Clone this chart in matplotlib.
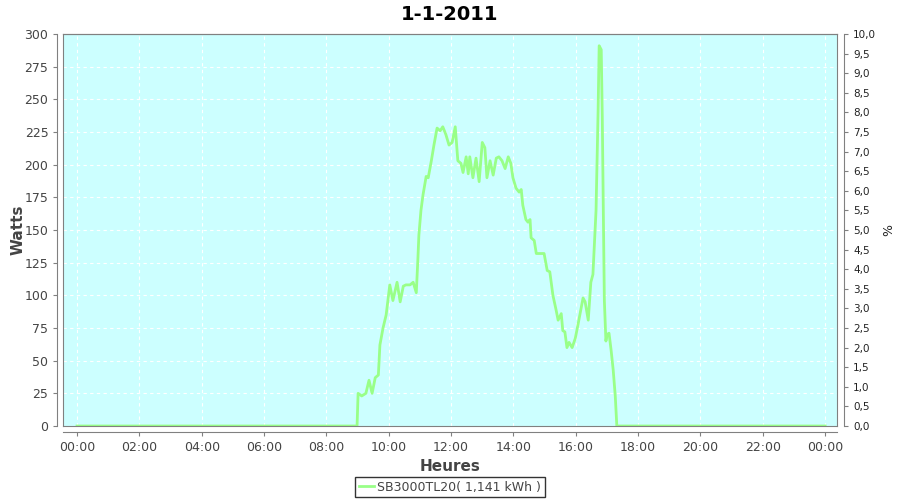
import matplotlib
matplotlib.use("Agg")
import matplotlib.pyplot as plt
from matplotlib.ticker import MultipleLocator, FuncFormatter

title = "1-1-2011"
series_name = "SB3000TL20( 1,141 kWh )"

# time of day (HH:MM) and power (W)
times = ["00:00", "08:59", "09:01", "09:08", "09:16", "09:22", "09:28", "09:34",
         "09:40", "09:43", "09:49", "09:55", "10:02", "10:08", "10:16", "10:22",
         "10:28", "10:33", "10:41", "10:47", "10:53", "10:56", "10:58", "11:02",
         "11:06", "11:12", "11:16", "11:22", "11:27", "11:33", "11:39", "11:44",
         "11:50", "11:56", "12:02", "12:08", "12:13", "12:19", "12:23", "12:29",
         "12:33", "12:36", "12:42", "12:48", "12:54", "13:00", "13:05", "13:09",
         "13:15", "13:21", "13:27", "13:32", "13:38", "13:44", "13:50", "13:55",
         "13:59", "14:05", "14:11", "14:15", "14:18", "14:24", "14:28", "14:32",
         "14:34", "14:40", "14:44", "14:51", "14:59", "15:05", "15:10", "15:16",
         "15:22", "15:26", "15:32", "15:35", "15:39", "15:43", "15:47", "15:53",
         "15:59", "16:04", "16:14", "16:18", "16:24", "16:29", "16:33", "16:39",
         "16:43", "16:45", "16:49", "16:51", "16:53", "16:55", "16:58", "17:00",
         "17:04", "17:08", "17:12", "17:16", "17:19", "24:00"]
watts = [0, 0, 25, 23, 25, 35, 25, 37,
         39, 62, 75, 85, 108, 96, 110, 95,
         107, 108, 108, 110, 102, 127, 146, 165,
         177, 191, 190, 203, 215, 228, 226, 229,
         223, 215, 217, 229, 203, 201, 194, 206,
         193, 206, 190, 205, 187, 217, 213, 190,
         203, 192, 205, 206, 203, 197, 206, 201,
         190, 182, 179, 181, 169, 158, 156, 158,
         144, 142, 132, 132, 132, 119, 118, 100,
         89, 81, 86, 73, 72, 60, 64, 60,
         67, 77, 98, 95, 81, 110, 116, 165,
         242, 291, 288, 237, 165, 96, 65, 70,
         71, 58, 43, 23, 0, 0]

hours = [int(t[:2]) + int(t[3:]) / 60 for t in times]

plt.rcParams['font.family'] = ['DejaVu Sans']

fig = plt.figure(figsize=(9, 5), dpi=100)
ax = fig.add_axes([0.07, 0.148, 0.86, 0.784])
ax.set_facecolor("#ccffff")

ax.plot(hours, watts, color="#99ff88", lw=2, label=series_name)

ax.set_xlim(-0.45, 24.38)
ax.set_ylim(0, 300)
ax.xaxis.set_major_locator(MultipleLocator(2))
ax.xaxis.set_major_formatter(FuncFormatter(lambda v, p: "%02d:00" % (int(round(v)) % 24)))
ax.yaxis.set_major_locator(MultipleLocator(25))
ax.grid(True, color="white", ls=(0, (3, 3)), lw=0.8)

grey = "#808080"
for side in ["left", "bottom", "right", "top"]:
    ax.spines[side].set_color(grey)
ax.tick_params(colors=grey, labelcolor="#444444", labelsize=9, length=3)

ax2 = ax.twinx()
ax2.set_ylim(0, 10)
ax2.yaxis.set_major_locator(MultipleLocator(0.5))
ax2.yaxis.set_major_formatter(FuncFormatter(lambda v, p: ("%.1f" % v).replace(".", ",")))
ax2.tick_params(colors=grey, labelcolor="#222222", labelsize=7.5, length=3)
for side in ["left", "bottom", "right", "top"]:
    ax2.spines[side].set_color(grey)
# offset axis lines like the original
ax2.spines["right"].set_position(("outward", 5))
ax.spines["left"].set_position(("outward", 4))
ax.spines["bottom"].set_position(("outward", 4))

ax.set_ylabel("Watts", fontsize=11, fontweight="bold", color="#444444")
ax.yaxis.set_label_coords(-0.048, 0.5)
ax.set_xlabel("Heures", fontsize=11, fontweight="bold", color="#444444", labelpad=4)
ax2.set_ylabel("%", fontsize=9, color="#222222")
ax2.yaxis.set_label_coords(1.058, 0.5)

fig.suptitle(title, fontsize=14, fontweight="bold", y=0.99)

leg = fig.legend(loc="center", bbox_to_anchor=(0.5, 0.026), fontsize=9,
                 frameon=True, fancybox=False, handlelength=1.2, handletextpad=0.3,
                 borderpad=0.3)
leg.get_frame().set_edgecolor("black")
leg.get_frame().set_linewidth(1)
for t in leg.get_texts():
    t.set_color("#444444")

fig.savefig("out.png", dpi=100)
